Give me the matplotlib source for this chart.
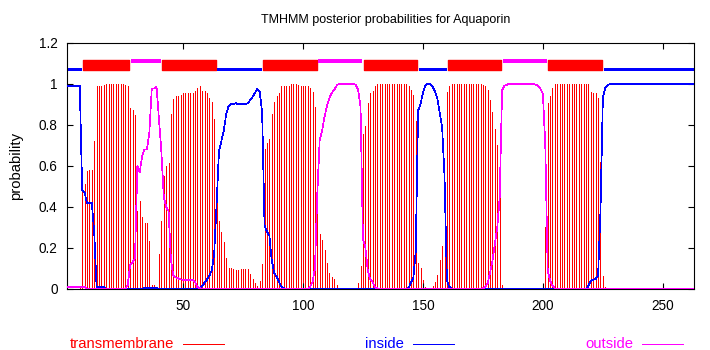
import matplotlib
matplotlib.use("Agg")
import matplotlib.pyplot as plt

plt.rcParams['font.family'] = ['Liberation Sans', 'DejaVu Sans']
plt.rcParams['font.size'] = 10

# residue numbers
residues = list(range(1, 264))

# posterior probability of transmembrane per residue
tm = [
    0, 0, 0, 0, 0, 0, 0.01, 0.50, 0.51, 0.575,
    0.58, 0.58, 0.72, 0.99, 0.99, 0.99, 0.995, 0.998, 1.0, 1.0,
    1.0, 1.0, 1.0, 1.0, 1.0, 0.995, 0.99, 0.88, 0.87, 0.85,
    0.38, 0.43, 0.35, 0.32, 0.32, 0.235, 0.02, 0.02, 0.01, 0.17,
    0.33, 0.55, 0.60, 0.615, 0.855, 0.925, 0.94, 0.94, 0.945, 0.953,
    0.953, 0.953, 0.953, 0.953, 0.963, 0.98, 0.99, 0.963, 0.963, 0.953,
    0.93, 0.91, 0.83, 0.59, 0.33, 0.28, 0.23, 0.15, 0.10, 0.10,
    0.099, 0.093, 0.095, 0.099, 0.099, 0.099, 0.097, 0.075, 0.047, 0.03,
    0.015, 0.04, 0.123, 0.68, 0.71, 0.73, 0.855, 0.91, 0.94, 0.956,
    0.99, 0.99, 0.99, 0.99, 0.998, 0.998, 0.998, 0.995, 0.99, 0.99,
    0.99, 0.99, 0.98, 0.958, 0.885, 0.53, 0.27, 0.24, 0.19, 0.125,
    0.08, 0.06, 0.05, 0.02, 0, 0, 0, 0, 0, 0,
    0, 0.005, 0.03, 0.11, 0.755, 0.795, 0.907, 0.953, 0.966, 0.99,
    0.998, 0.998, 1.0, 1.0, 1.0, 1.0, 1.0, 1.0, 1.0, 1.0,
    1.0, 1.0, 1.0, 0.99, 0.97, 0.945, 0.82, 0.128, 0.10, 0.045,
    0.01, 0, 0, 0.015, 0.036, 0.07, 0.14, 0.21, 0.45, 0.958,
    0.99, 1.0, 1.0, 1.0, 1.0, 1.0, 1.0, 1.0, 1.0, 1.0,
    1.0, 1.0, 1.0, 1.0, 0.995, 0.99, 0.97, 0.92, 0.86, 0.78,
    0.70, 0.55, 0.02, 0, 0, 0, 0, 0, 0, 0,
    0, 0, 0, 0, 0, 0, 0, 0, 0.005, 0.015,
    0.30, 0.905, 0.94, 0.98, 1.0, 1.0, 1.0, 1.0, 1.0, 1.0,
    1.0, 1.0, 1.0, 1.0, 1.0, 1.0, 1.0, 1.0, 1.0, 0.96,
    0.955, 0.953, 0.933, 0.62, 0.063, 0.01, 0.005, 0, 0, 0,
    0, 0, 0, 0, 0, 0, 0, 0, 0, 0,
    0, 0, 0, 0, 0, 0, 0, 0, 0, 0,
    0, 0, 0, 0, 0, 0, 0, 0, 0, 0,
    0, 0, 0,
]

# posterior probability of inside per residue
inside = [
    0.99, 0.99, 0.99, 0.99, 0.99, 0.99, 0.99, 0.48, 0.47, 0.42,
    0.42, 0.42, 0.28, 0.01, 0.01, 0.01, 0.01, 0, 0, 0,
    0, 0, 0, 0, 0, 0, 0, 0, 0, 0,
    0, 0, 0, 0.006, 0.006, 0.006, 0.006, 0.006, 0.006, 0,
    0, 0, 0, 0, 0, 0, 0, 0, 0, 0,
    0, 0, 0, 0, 0, 0, 0.005, 0.015, 0.03, 0.045,
    0.065, 0.09, 0.17, 0.41, 0.67, 0.72, 0.77, 0.85, 0.89, 0.90,
    0.90, 0.905, 0.90, 0.90, 0.90, 0.90, 0.905, 0.92, 0.935, 0.955,
    0.975, 0.96, 0.86, 0.31, 0.28, 0.26, 0.14, 0.08, 0.06, 0.036,
    0.012, 0.004, 0, 0, 0, 0, 0, 0, 0, 0,
    0, 0, 0, 0, 0, 0, 0, 0, 0, 0,
    0, 0, 0, 0, 0, 0, 0, 0, 0, 0,
    0, 0, 0, 0, 0, 0, 0, 0, 0, 0,
    0, 0, 0, 0, 0, 0, 0, 0, 0, 0,
    0, 0, 0, 0.005, 0.03, 0.055, 0.18, 0.87, 0.90, 0.955,
    0.99, 1.0, 1.0, 0.985, 0.965, 0.93, 0.86, 0.79, 0.55, 0.04,
    0.01, 0.003, 0, 0, 0, 0, 0, 0, 0, 0,
    0, 0, 0, 0, 0, 0, 0, 0, 0, 0,
    0, 0, 0, 0, 0, 0, 0, 0, 0, 0,
    0, 0, 0, 0, 0, 0, 0, 0, 0, 0,
    0, 0, 0, 0, 0, 0, 0, 0, 0, 0,
    0, 0, 0, 0, 0, 0, 0, 0, 0.015, 0.04,
    0.045, 0.048, 0.067, 0.38, 0.935, 0.98, 0.995, 0.998, 0.998, 0.998,
    0.998, 0.998, 0.998, 0.998, 0.998, 0.998, 0.998, 0.998, 0.998, 0.998,
    0.998, 0.998, 0.998, 0.998, 0.998, 0.998, 0.998, 0.998, 0.998, 0.998,
    0.998, 0.998, 0.998, 0.998, 0.998, 0.998, 0.998, 0.998, 0.998, 0.998,
    0.998, 0.998, 0.998,
]

# posterior probability of outside per residue
outside = [
    0.01, 0.01, 0.01, 0.01, 0.01, 0.01, 0.01, 0.01, 0.01, 0,
    0, 0, 0, 0, 0, 0, 0, 0, 0, 0,
    0, 0, 0, 0, 0, 0, 0.02, 0.12, 0.13, 0.15,
    0.60, 0.57, 0.65, 0.68, 0.68, 0.765, 0.977, 0.977, 0.985, 0.83,
    0.67, 0.45, 0.40, 0.38, 0.14, 0.065, 0.057, 0.052, 0.047, 0.045,
    0.045, 0.045, 0.045, 0.045, 0.035, 0.01, 0.005, 0, 0, 0,
    0, 0, 0, 0, 0, 0, 0, 0, 0, 0,
    0, 0, 0, 0, 0, 0, 0, 0, 0, 0,
    0, 0, 0, 0, 0, 0, 0, 0, 0, 0,
    0, 0, 0, 0, 0, 0, 0, 0, 0, 0,
    0, 0, 0.01, 0.035, 0.10, 0.47, 0.73, 0.77, 0.84, 0.89,
    0.93, 0.955, 0.97, 0.99, 1.0, 1.0, 1.0, 1.0, 1.0, 1.0,
    1.0, 0.995, 0.97, 0.89, 0.245, 0.205, 0.093, 0.047, 0.034, 0.01,
    0.002, 0, 0, 0, 0, 0, 0, 0, 0, 0,
    0, 0, 0, 0, 0, 0, 0, 0, 0, 0,
    0, 0, 0, 0, 0, 0, 0, 0, 0, 0,
    0, 0, 0, 0, 0, 0, 0, 0, 0, 0,
    0, 0, 0, 0, 0.003, 0.01, 0.03, 0.08, 0.14, 0.22,
    0.30, 0.45, 0.97, 0.99, 0.995, 1.0, 1.0, 1.0, 1.0, 1.0,
    1.0, 1.0, 1.0, 1.0, 1.0, 1.0, 0.995, 0.99, 0.975, 0.95,
    0.70, 0.09, 0.04, 0.015, 0.003, 0, 0, 0, 0, 0,
    0, 0, 0, 0, 0, 0, 0, 0, 0, 0,
    0, 0, 0, 0, 0, 0, 0, 0, 0, 0,
    0, 0, 0, 0, 0, 0, 0, 0, 0, 0,
    0, 0, 0, 0, 0, 0, 0, 0, 0, 0,
    0, 0, 0, 0, 0, 0, 0, 0, 0, 0,
    0, 0, 0,
]

# predicted topology (first residue, last residue, kind)
topo_start = [1, 8, 28, 41, 64, 83, 106, 125, 148, 160, 183, 202, 225]
topo_end = [7, 27, 40, 63, 82, 105, 124, 147, 159, 182, 201, 224, 263]
topo_kind = ['in', 'tm', 'out', 'tm', 'in', 'tm', 'out', 'tm', 'in', 'tm', 'out', 'tm', 'in']

RED, BLUE, MAG = '#ff0000', '#0000ff', '#ff00ff'

fig = plt.figure(figsize=(7.1, 3.5), dpi=100)
ax = fig.add_axes([67.3 / 710, 1 - 289 / 350, 627 / 710, 246.3 / 350])

ax.vlines(residues, 0, tm, color=RED, lw=0.6, antialiased=False, zorder=1)
ax.plot(residues, inside, color=BLUE, lw=0.5, antialiased=False, zorder=3)
ax.plot(residues, outside, color=MAG, lw=0.5, antialiased=False, zorder=3)

# topology bar across the top
for s, e, k in zip(topo_start, topo_end, topo_kind):
    x0, x1 = s + 0.3, e + 0.7
    if k == 'tm':
        ax.broken_barh([(x0, x1 - x0)], (1.067, 0.048), color=RED, antialiased=False)
    elif k == 'in':
        ax.plot([x0, x1], [1.07, 1.07], color=BLUE, lw=1.8, solid_capstyle='butt', antialiased=False)
    else:
        ax.plot([x0, x1], [1.112, 1.112], color=MAG, lw=1.5, solid_capstyle='butt', antialiased=False)

ax.set_xlim(1.8, 263.1)
ax.set_ylim(0, 1.2)
ax.set_xticks([50, 100, 150, 200, 250])
ax.set_yticks([0, 0.2, 0.4, 0.6, 0.8, 1, 1.2])
ax.set_yticklabels(['0', '0.2', '0.4', '0.6', '0.8', '1', '1.2'])
ax.tick_params(direction='in', length=4, width=0.8, top=True, right=True, pad=7, labelsize=9.8)
for sp in ax.spines.values():
    sp.set_linewidth(0.8)

ax.set_ylabel('probability', fontsize=10.7, labelpad=11)
fig.text(386 / 710, 1 - 20 / 350, 'TMHMM posterior probabilities for Aquaporin',
         ha='center', va='center', fontsize=9)

# legend row under the plot: coloured name followed by a short sample line
legend_names = ['transmembrane', 'inside', 'outside']
legend_colors = [RED, BLUE, MAG]
legend_text_end = [174, 404, 633]
leg_y = 1 - 343.5 / 350
for name, col, xe in zip(legend_names, legend_colors, legend_text_end):
    fig.text(xe / 710, leg_y, name, color=col, ha='right', va='center', fontsize=10.7)
    fig.lines.append(plt.Line2D([(xe + 9) / 710, (xe + 50) / 710], [leg_y, leg_y],
                                transform=fig.transFigure, color=col, linewidth=0.72,
                                antialiased=False, figure=fig))

fig.savefig('out.png', dpi=100)
